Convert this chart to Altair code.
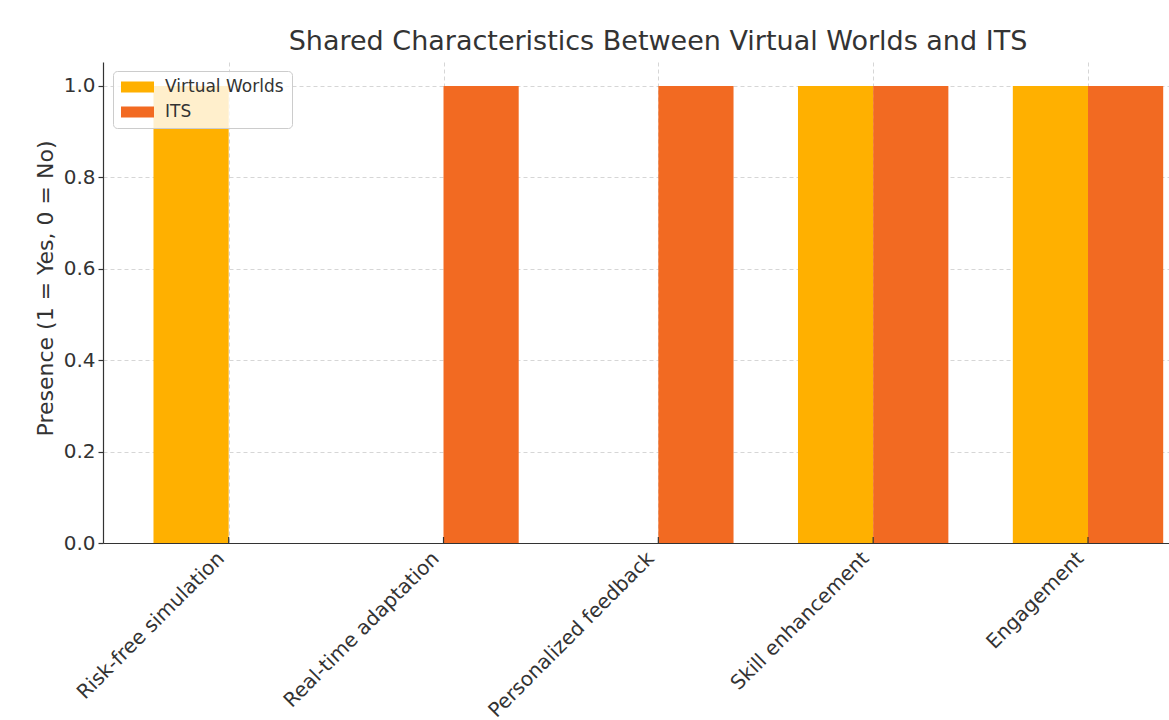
import altair as alt
import pandas as pd

categories = ["Risk-free simulation", "Real-time adaptation", "Personalized feedback",
              "Skill enhancement", "Engagement"]
virtual_worlds = [1, 0, 0, 1, 1]
its = [0, 1, 1, 1, 1]
series_names = ["Virtual Worlds", "ITS"]
series_colors = ["#FFB000", "#F26A22"]
y_ticks = [0.0, 0.2, 0.4, 0.6, 0.8, 1.0]
bar_width = 0.35

rows = []
for i, c in enumerate(categories):
    rows.append({"idx": i, "category": c, "series": series_names[0],
                 "value": virtual_worlds[i], "x0": i - bar_width, "x1": i})
    rows.append({"idx": i, "category": c, "series": series_names[1],
                 "value": its[i], "x0": i, "x1": i + bar_width})
df = pd.DataFrame(rows)
ticks_df = pd.DataFrame({"idx": list(range(len(categories)))})

W, H = 1066, 481
TXT = "#333333"
label_expr = "[" + ",".join("'" + c + "'" for c in categories) + "][datum.value]"

x_scale = alt.Scale(domain=[-0.585, 4.377], nice=False, zero=False)
y_scale = alt.Scale(domain=[0, 1.0525], nice=False, zero=True)

bars = alt.Chart(df).mark_bar().encode(
    x=alt.X("x0:Q", scale=x_scale, axis=alt.Axis(
        values=list(range(len(categories))), labelExpr=label_expr, title=None,
        labelAngle=-45, labelAlign="right", labelBaseline="top", labelOffset=-15,
        labelPadding=5, labelFontSize=20, labelColor=TXT, ticks=False, labelLimit=0,
        domainColor=TXT, domainWidth=1.2, grid=True, gridDash=[4, 3],
        gridColor="#cccccc", gridWidth=0.8, labelOverlap=False, labelBound=False,
        labelFlush=False)),
    x2="x1:Q",
    y=alt.Y("value:Q", stack=None, scale=y_scale, axis=alt.Axis(
        values=y_ticks, format=".1f", title="Presence (1 = Yes, 0 = No)",
        titleFontSize=22, titleFontWeight="normal", titleColor=TXT, titlePadding=6,
        titleY=226,
        labelFontSize=20, labelColor=TXT, labelPadding=3, tickSize=5, tickColor=TXT,
        tickWidth=1.2, domainColor=TXT, domainWidth=1.2, grid=True, gridDash=[4, 3],
        gridColor="#cccccc", gridWidth=0.8, labelFlush=False)),
    y2=alt.datum(0),
    color=alt.Color("series:N", scale=alt.Scale(domain=series_names, range=series_colors),
                    legend=alt.Legend(
                        title=None, orient="none", legendX=10, legendY=9,
                        symbolType="M-3,-1H3V1H-3Z", symbolSize=121, symbolStrokeWidth=0,
                        symbolOpacity=1, symbolOffset=8.5, labelOffset=19,
                        labelFontSize=17, labelColor=TXT, padding=7.5, rowPadding=7,
                        fillColor="rgba(255,255,255,0.8)", strokeColor="#cccccc",
                        cornerRadius=4)),
)

tick_marks = alt.Chart(ticks_df).mark_rule(color=TXT, strokeWidth=1.2).encode(
    x=alt.X("idx:Q", scale=x_scale),
    y=alt.value(H - 6),
    y2=alt.value(H),
)

chart = alt.layer(bars, tick_marks).properties(
    width=W, height=H,
    title=alt.TitleParams("Shared Characteristics Between Virtual Worlds and ITS",
                          fontSize=27, fontWeight="normal", color=TXT,
                          anchor="middle", dx=22, offset=6),
    autosize=alt.AutoSizeParams(type="none"),
    padding={"left": 103, "top": 62, "right": 0, "bottom": 177},
).configure(font="DejaVu Sans").configure_view(stroke=None)

chart.save("out.html", embed_options={"renderer": "svg", "actions": False})
